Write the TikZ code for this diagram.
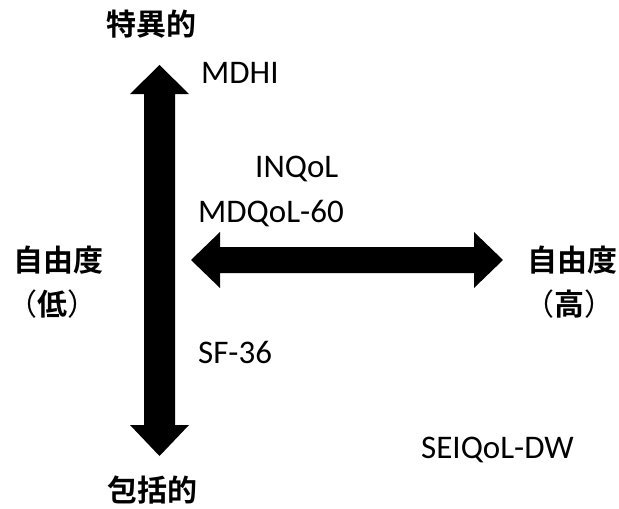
\documentclass[tikz,border=0pt]{standalone}
\usepackage{fontspec}
\setmainfont{Carlito}
\newfontfamily\cjkb[BoldFont={Noto Sans CJK JP Bold}]{Noto Sans CJK JP}
\begin{document}
\begin{tikzpicture}[x=1pt,y=-1pt,
  lbl/.style={anchor=base west,inner sep=0pt,font=\fontsize{33}{38}\selectfont},
  cjkbold/.style={inner sep=0pt,font=\fontsize{30}{36}\selectfont\cjkb\bfseries},
  cjkreg/.style={inner sep=0pt,font=\fontsize{30}{36}\selectfont\cjkb},
  axis/.style={fill=black,draw=none}]
\useasboundingbox (0,0) rectangle (619,509);
% vertical double arrow
\fill[axis] (159.5,65) -- (189,94) -- (175,94) -- (175,425) -- (189,425) -- (159.5,456)
  -- (130,425) -- (144,425) -- (144,94) -- (130,94) -- cycle;
% horizontal double arrow
\fill[axis] (191,260) -- (220,232) -- (220,247) -- (474,247) -- (474,232) -- (503,260)
  -- (474,288) -- (474,273) -- (220,273) -- (220,288) -- cycle;
% axis labels
\node[cjkbold] (top) at (151,24) {特異的};
\node[cjkbold] (bottom) at (152,490) {包括的};
\node[cjkbold] (leftA) at (58,260) {自由度};
\node[cjkreg] (leftB) at (53,304) {（{\bfseries 低}）};
\node[cjkbold] (rightA) at (572,260) {自由度};
\node[cjkreg] (rightB) at (569,304) {（{\bfseries 高}）};
% instruments
\node[lbl] (mdhi) at (201,83) {MDHI};
\node[lbl] (inqol) at (255,177) {INQoL};
\node[lbl] (mdqol) at (198,222) {MDQoL-60};
\node[lbl] (sf) at (198,363) {SF-36};
\node[lbl] (seiqol) at (421,458) {SEIQoL-DW};
\end{tikzpicture}
\end{document}
